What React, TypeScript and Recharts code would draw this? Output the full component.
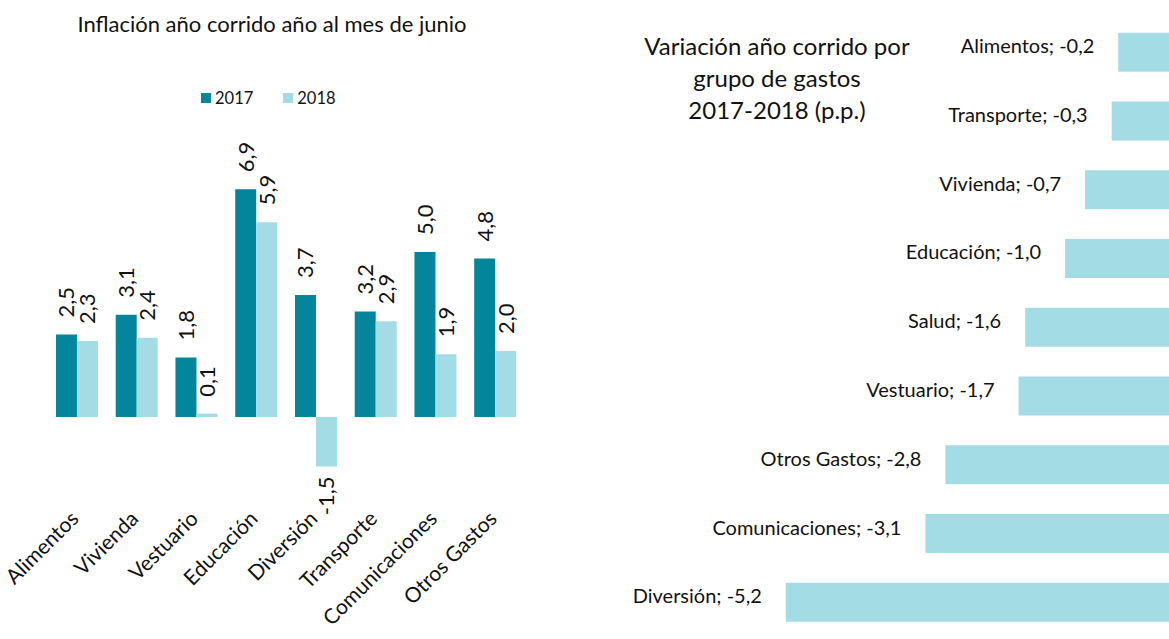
import React from "react";
import { BarChart, Bar, XAxis, YAxis, LabelList, Legend } from "recharts";

// left chart: inflation year-to-date to June
const groups = ["Alimentos", "Vivienda", "Vestuario", "Educación", "Diversión", "Transporte", "Comunicaciones", "Otros Gastos"];
const infl2017 = [2.5, 3.1, 1.8, 6.9, 3.7, 3.2, 5.0, 4.8];
const infl2018 = [2.3, 2.4, 0.1, 5.9, -1.5, 2.9, 1.9, 2.0];

// right chart: change 2017-2018 in p.p.
const changeGroups = ["Alimentos", "Transporte", "Vivienda", "Educación", "Salud", "Vestuario", "Otros Gastos", "Comunicaciones", "Diversión"];
const changeValues = [-0.2, -0.3, -0.7, -1.0, -1.6, -1.7, -2.8, -3.1, -5.2];

const DARK = "#03859c";
const LIGHT = "#a3dce5";
const INK = "#111";
const FONT = "Lato, sans-serif";
const AXIS_CROSS = 2; // value axis crosses beyond the visible edge

const fmt = (v: number) => v.toFixed(1).replace(".", ",");

const inflData = groups.map((name, i) => ({ name, y2017: infl2017[i], y2018: infl2018[i] }));
const changeData = changeGroups.map((name, i) => ({ name, value: changeValues[i] }));

function box(p: any) {
    const vb = p.viewBox ?? p;
    const x = Number(vb.x), y = Number(vb.y), w = Number(vb.width), h = Number(vb.height);
    return {
        left: Math.min(x, x + w), right: Math.max(x, x + w),
        top: Math.min(y, y + h), bottom: Math.max(y, y + h),
    };
}

function ValueLabel(p: any) {
    const v = Number(p.value);
    const b = box(p);
    const cx = (b.left + b.right) / 2 + 8;
    const ay = v >= 0 ? b.top - 17 : b.bottom + 10;
    return (
        <text x={cx} y={ay} transform={`rotate(-90, ${cx}, ${ay})`}
            textAnchor={v >= 0 ? "start" : "end"} fontSize={22} fill={INK} fontFamily={FONT}>
            {fmt(v)}
        </text>
    );
}

function CategoryTick(p: any) {
    const ax = p.x + 3, ay = p.y;
    return (
        <text x={ax} y={ay} transform={`rotate(-45, ${ax}, ${ay})`} textAnchor="end"
            fontSize={21} fill={INK} fontFamily={FONT}>
            {p.payload.value}
        </text>
    );
}

function ChangeLabel(p: any) {
    const b = box(p);
    const name = changeData[p.index]?.name;
    return (
        <text x={b.left - 24} y={(b.top + b.bottom) / 2 + 1} textAnchor="end"
            fontSize={20} fill={INK} fontFamily={FONT}>
            {`${name}; ${fmt(Number(p.value))}`}
        </text>
    );
}

function LegendContent(p: any) {
    return (
        <div style={{ display: "flex", gap: 30, fontSize: 16.5, fontFamily: FONT, color: INK }}>
            {(p.payload ?? []).map((e: any) => (
                <span key={e.value} style={{ display: "flex", alignItems: "center" }}>
                    <span style={{ width: 10, height: 10, background: e.color, marginRight: 4, display: "inline-block" }} />
                    {e.value}
                </span>
            ))}
        </div>
    );
}

export default function App() {
    return (
        <div style={{ position: "absolute", left: 0, top: 0, width: 1169, height: 639, overflow: "hidden", background: "#fff", fontFamily: FONT }}>
            {/* left chart */}
            <div style={{ position: "absolute", left: 0, top: 10, width: 544, textAlign: "center", fontSize: 22, color: INK }}>
                Inflación año corrido año al mes de junio
            </div>
            <div style={{ position: "absolute", left: 0, top: 0 }}>
                <BarChart width={560} height={639} data={inflData}
                    margin={{ top: 186, right: 35, left: 47, bottom: 13 }}
                    barCategoryGap="15%" barGap={0}>
                    <XAxis dataKey="name" height={110} axisLine={false} tickLine={false} tickSize={0}
                        tickMargin={4} interval={0} tick={CategoryTick} />
                    <YAxis hide type="number" domain={[-3, 7]} tickCount={11} allowDataOverflow />
                    <Legend verticalAlign="middle" align="center" content={LegendContent}
                        wrapperStyle={{ top: 88, left: 201, width: "auto", height: "auto" }} />
                    <Bar dataKey="y2017" name="2017" fill={DARK} isAnimationActive={false}>
                        <LabelList dataKey="y2017" content={ValueLabel} />
                    </Bar>
                    <Bar dataKey="y2018" name="2018" fill={LIGHT} isAnimationActive={false}>
                        <LabelList dataKey="y2018" content={ValueLabel} />
                    </Bar>
                </BarChart>
            </div>

            {/* right chart */}
            <div style={{ position: "absolute", left: 617, top: 30, width: 320, textAlign: "center", fontSize: 24, lineHeight: "32px", color: INK }}>
                Variación año corrido por<br />grupo de gastos<br />2017-2018 (p.p.)
            </div>
            <div style={{ position: "absolute", left: 560, top: 0 }}>
                <BarChart width={704.6} height={639} data={changeData} layout="vertical"
                    margin={{ top: 17.6, right: 0, left: 172.6, bottom: 2.6 }}
                    barCategoryGap="22%">
                    <XAxis hide type="number" domain={[-6, 2]} tickCount={9} allowDataOverflow />
                    <YAxis hide type="category" dataKey="name" />
                    <Bar dataKey={(d: any) => [d.value, AXIS_CROSS]} fill={LIGHT} isAnimationActive={false}>
                        <LabelList dataKey="value" content={ChangeLabel} />
                    </Bar>
                </BarChart>
            </div>
        </div>
    );
}
